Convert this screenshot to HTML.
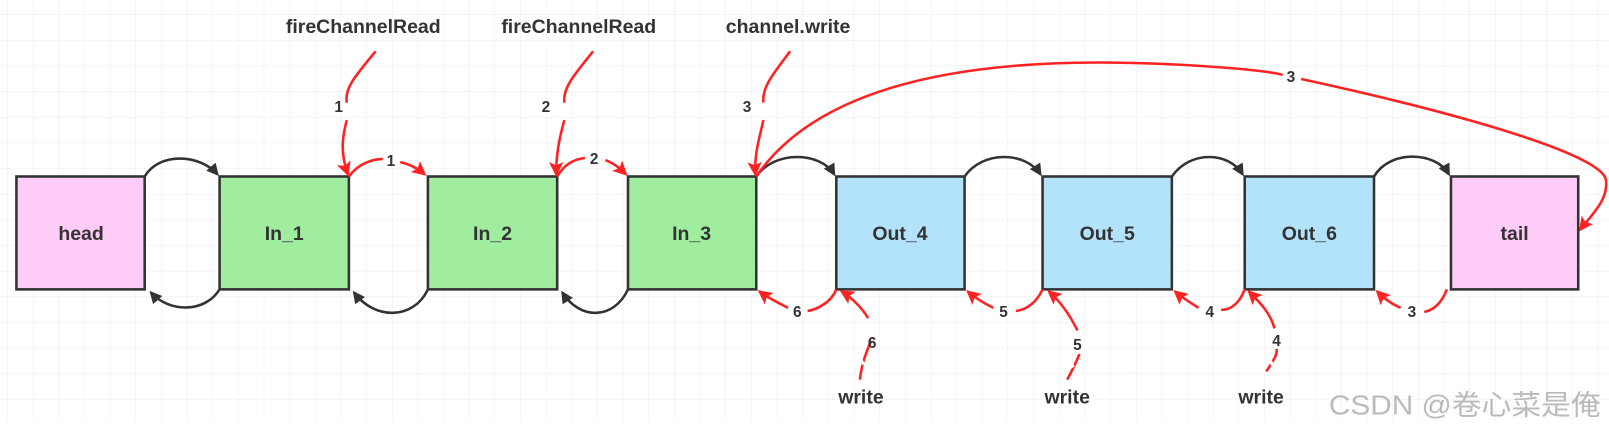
<!DOCTYPE html>
<html><head><meta charset="utf-8"><style>
body{margin:0;background:#fff;}
svg{display:block;font-family:"Liberation Sans","Noto Sans CJK SC",sans-serif;}
</style></head><body>
<svg width="1609" height="432" viewBox="0 0 1568 421" preserveAspectRatio="none">
<defs>
<pattern id="g" width="25" height="25" patternUnits="userSpaceOnUse" x="7" y="14">
<path d="M0 0H25M0 0V25" stroke="#ebebeb" stroke-width="1" fill="none"/>
</pattern>
<marker id="ab" markerWidth="12" markerHeight="12" refX="10" refY="6" orient="auto" markerUnits="userSpaceOnUse"><path d="M0 0L12 6L0 12Z" fill="#333"/></marker>
<marker id="ar" markerWidth="14" markerHeight="14" refX="12" refY="7" orient="auto" markerUnits="userSpaceOnUse"><path d="M0 0L14 7L0 14L3 7Z" fill="#f22"/></marker>
</defs>
<rect x="0" y="0" width="1568" height="410" fill="url(#g)"/>
<g stroke="#333" stroke-width="2.5">
<rect x="16" y="172" width="125" height="110" fill="#ffccf7"/>
<rect x="214" y="172" width="126" height="110" fill="#a0eda0"/>
<rect x="417" y="172" width="126" height="110" fill="#a0eda0"/>
<rect x="612" y="172" width="125" height="110" fill="#a0eda0"/>
<rect x="815" y="172" width="125" height="110" fill="#b3e3fb"/>
<rect x="1016" y="172" width="126" height="110" fill="#b3e3fb"/>
<rect x="1213" y="172" width="126" height="110" fill="#b3e3fb"/>
<rect x="1414" y="172" width="124" height="110" fill="#ffccf7"/>
</g>
<g font-weight="bold" font-size="19" fill="#333" text-anchor="middle">
<text x="79" y="234">head</text><text x="277" y="234">In_1</text><text x="480" y="234">In_2</text><text x="674" y="234">In_3</text>
<text x="877" y="234">Out_4</text><text x="1079" y="234">Out_5</text><text x="1276" y="234">Out_6</text><text x="1476" y="234">tail</text>
</g>
<g stroke="#333" stroke-width="2.5" fill="none" marker-end="url(#ab)">
<path d="M141 172 C155 148 195 150 212 170"/>
<path d="M214 282 C200 305 165 305 147 285"/>
<path d="M417 282 C403 312 365 312 345 285"/>
<path d="M612 282 C598 312 565 312 548 285"/>
<path d="M737 172 C755 146 800 148 813 170"/>
<path d="M940 172 C958 146 1000 148 1014 170"/>
<path d="M1142 172 C1160 146 1198 148 1211 170"/>
<path d="M1339 172 C1355 145 1400 148 1412 170"/>
</g>
<g stroke="#f22" stroke-width="2.5" fill="none" marker-end="url(#ar)">
<path d="M366 50 C350 70 335 85 338 100 M338 117 C333 135 332 150 339 170"/>
<path d="M340 172 C350 158 365 155 373 155 M390 158 C400 160 408 165 414 170"/>
<path d="M578 50 C562 70 548 85 550 100 M550 117 C545 135 542 150 542 170"/>
<path d="M543 172 C550 160 560 155 570 154 M590 156 C600 160 605 165 610 170"/>
<path d="M770 50 C755 70 742 85 744 100 M744 117 C740 135 735 150 736 170"/>
<path d="M737 172 C800 80 950 55 1125 62 C1200 65 1240 70 1250 73 M1268 77 C1420 110 1560 150 1565 175 C1568 195 1550 210 1540 224"/>
<path d="M815 282 C810 295 795 302 787 303 M768 300 C758 295 748 290 740 284"/>
<path d="M1016 282 C1010 295 1000 302 990 303 M968 300 C958 295 950 290 943 284"/>
<path d="M1213 282 C1208 295 1200 302 1190 302 M1168 300 C1160 295 1152 290 1145 284"/>
<path d="M1410 282 C1405 295 1398 302 1388 304 M1365 300 C1355 296 1348 290 1342 284"/>
<path d="M838 370 C840 350 848 335 849 332 M846 310 C840 300 830 290 820 284"/>
<path d="M1040 370 C1048 355 1052 345 1052 345 M1050 322 C1044 310 1035 295 1022 284"/>
<path d="M1234 362 C1242 350 1245 345 1244 340 M1242 320 C1238 305 1228 295 1217 284"/>
</g>
<g stroke="#fff" stroke-width="3" fill="none">
<path d="M838 350 L842 355 M1043 352 L1046 358 M1238 352 L1241 357"/>
</g>
<g font-weight="bold" font-size="15" fill="#333" text-anchor="middle">
<text x="330" y="109">1</text><text x="532" y="109">2</text><text x="728" y="109">3</text>
<text x="381" y="162">1</text><text x="579" y="160">2</text><text x="1258" y="80">3</text>
<text x="777" y="309">6</text><text x="978" y="309">5</text><text x="1179" y="309">4</text><text x="1376" y="309">3</text>
<text x="850" y="339">6</text><text x="1050" y="341">5</text><text x="1244" y="337">4</text>
</g>
<g font-size="19" font-weight="bold" fill="#333" text-anchor="middle">
<text x="354" y="32">fireChannelRead</text><text x="564" y="32">fireChannelRead</text><text x="768" y="32">channel.write</text>
<text x="839" y="393">write</text><text x="1040" y="393">write</text><text x="1229" y="393">write</text>
</g>
<text x="1295" y="404" font-size="27" fill="#bbb" textLength="265" lengthAdjust="spacingAndGlyphs">CSDN @卷心菜是俺</text>
</svg>
</body></html>
